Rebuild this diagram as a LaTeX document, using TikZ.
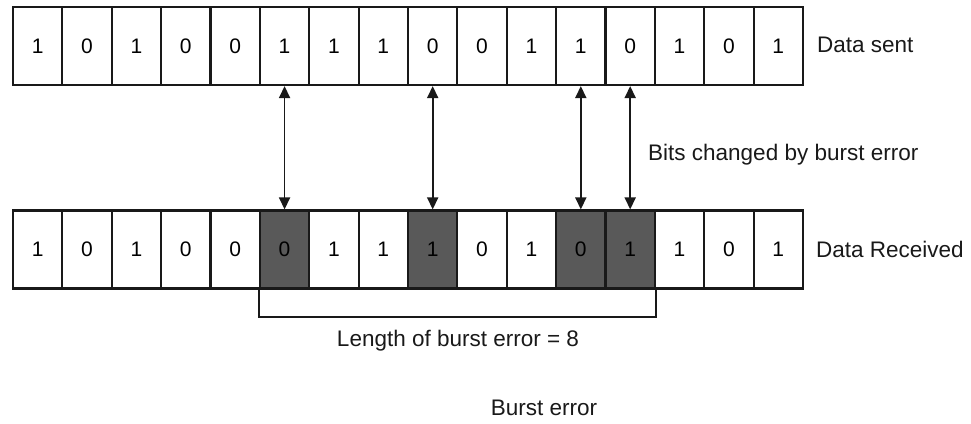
\documentclass[tikz,border=0pt]{standalone}
\usepackage{fontspec}
\setmainfont{Liberation Sans}
\usetikzlibrary{arrows.meta}
\begin{document}
\begin{tikzpicture}[x=1pt,y=-1pt,
  bitcell/.style={draw=black!90, line width=2.2pt, minimum width=49.375pt,
    minimum height=78pt, inner sep=0pt, font=\fontsize{21}{24}\selectfont},
  flipped/.style={fill=black!65},
  change/.style={line width=1.8pt, black!90,
    {Triangle[width=11pt,length=12pt]}-{Triangle[width=11pt,length=12pt]}},
  label/.style={inner sep=0pt, font=\fontsize{22.5}{26}\selectfont, text=black!90}]
  \useasboundingbox (0,0) rectangle (971,423);
  % sent and received bit strings
  \foreach \b [count=\i from 0] in {1,0,1,0,0,1,1,1,0,0,1,1,0,1,0,1}
    \node[bitcell] (s\i) at ({13+49.375*(\i+0.5)},46) {\b};
  \foreach \b/\f [count=\i from 0] in {1/,0/,1/,0/,0/,0/flipped,1/,1/,1/flipped,0/,1/,0/flipped,1/flipped,1/,0/,1/}
    \node[bitcell,\f] (r\i) at ({13+49.375*(\i+0.5)},249.5) {\b};
  % links between the changed bits
  \foreach \i in {5,8,11,12}
    \draw[change] (s\i.south) -- (r\i.north);
  % span of the burst
  \draw[line width=1.8pt, black!90] (r5.south west) -- ++(0,27) -| (r12.south east);
  % captions
  \node[label, anchor=west] (sent) at (817,45) {Data sent};
  \node[label, anchor=west] (recv) at (816,249) {Data Received};
  \node[label, anchor=west] (bits) at (648,155) {Bits changed by burst error};
  \node[label] (len) at (458,341) {Length of burst error = 8};
  \node[label] (title) at (544,408) {Burst error};
\end{tikzpicture}
\end{document}
